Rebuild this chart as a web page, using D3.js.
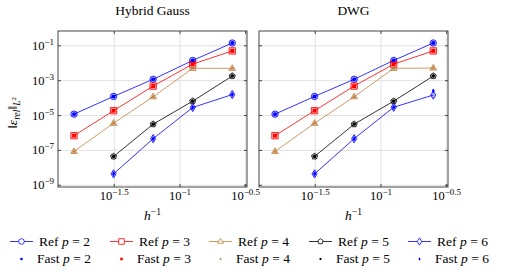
<!DOCTYPE html>
<html lang='en'>
<head>
<meta charset='utf-8'>
<title>Convergence</title>
<script src="https://d3js.org/d3.v7.min.js"></script>
<style type="text/css">
  body { margin: 0; background: #fff; }
</style>
</head>
<body>
<script type='text/javascript'>
// mesh sizes (x axis)
var hVals = [1/64, 1/32, 1/16, 1/8, 1/4];

// Hybrid Gauss
var hgRefP2 = [1.2e-5, 1.25e-4, 1.2e-3, 1.45e-2, 0.145];
var hgRefP3 = [7e-7, 1.9e-5, 4.9e-4, 8.9e-3, 0.051];
var hgRefP4 = [8.7e-8, 3.6e-6, 1.2e-4, 5.1e-3, 5.1e-3];
var hgRefP5 = [null, 4.5e-8, 3.2e-6, 6.7e-5, 1.85e-3];
var hgRefP6 = [null, 4.5e-9, 4.7e-7, 2.9e-5, 1.6e-4];
var hgFastP2 = [1.2e-5, 1.25e-4, 1.2e-3, 1.45e-2, 0.145];
var hgFastP3 = [7e-7, 1.9e-5, 4.9e-4, 8.9e-3, 0.051];
var hgFastP4 = [8.7e-8, 3.6e-6, 1.2e-4, 5.1e-3, 5.1e-3];
var hgFastP5 = [null, 4.5e-8, 3.2e-6, 6.7e-5, 1.85e-3];
var hgFastP6 = [null, 4.5e-9, 4.7e-7, 2.9e-5, 1.6e-4];

// DWG
var dwgRefP2 = [1.2e-5, 1.25e-4, 1.2e-3, 1.45e-2, 0.145];
var dwgRefP3 = [7e-7, 1.9e-5, 4.9e-4, 8.9e-3, 0.051];
var dwgRefP4 = [8.7e-8, 3.6e-6, 1.2e-4, 5.1e-3, 5.3e-3];
var dwgRefP5 = [null, 4.5e-8, 3.2e-6, 6.7e-5, 1.85e-3];
var dwgRefP6 = [null, 4.5e-9, 4.7e-7, 3.0e-5, 1.5e-4];
var dwgFastP2 = [1.2e-5, 1.25e-4, 1.2e-3, 1.45e-2, 0.145];
var dwgFastP3 = [7e-7, 1.9e-5, 4.9e-4, 8.9e-3, 0.051];
var dwgFastP4 = [8.7e-8, 3.6e-6, 1.2e-4, 5.1e-3, 5.3e-3];
var dwgFastP5 = [null, 4.5e-8, 3.2e-6, 6.7e-5, 1.85e-3];
var dwgFastP6 = [null, 4.5e-9, 4.7e-7, 3.0e-5, 2.6e-4];

var orders = [2, 3, 4, 5, 6];
var colors = ["#0000ff", "#ff0000", "#bf8040", "#000000", "#0000ff"];
var shapes = ["circle", "square", "triangle", "pentagon", "diamond"];

var xTickExps = [-1.5, -1, -0.5];
var yTickExps = [-1, -3, -5, -7, -9];

var W = 505, H = 275;
var serif = "'Liberation Serif', 'Times New Roman', serif";
var svg = d3.select("body").append("svg").attr("width", W).attr("height", H)
  .attr("font-family", serif).style("font-family", serif);

//marker paths
function markerPath(shape, r) {
  var pts;
  if (shape === "circle") {
    return "M" + r + ",0A" + r + "," + r + " 0 1,1 " + (-r) + ",0A" + r + "," + r + " 0 1,1 " + r + ",0Z";
  } else if (shape === "square") {
    pts = [[-r, -r], [r, -r], [r, r], [-r, r]];
  } else if (shape === "triangle") {
    pts = [[0, -r * 1.15], [r * 1.05, r * 0.65], [-r * 1.05, r * 0.65]];
  } else if (shape === "pentagon") {
    pts = d3.range(5).map(function(i) {
      var a = -Math.PI / 2 + i * 2 * Math.PI / 5;
      return [r * Math.cos(a), r * Math.sin(a)];
    });
  } else {
    pts = [[0, -r * 1.3], [r * 0.8, 0], [0, r * 1.3], [-r * 0.8, 0]];
  }
  return "M" + pts.map(function(p) { return p.join(","); }).join("L") + "Z";
}

function addPow(sel, base, exp, supSize) {
  sel.append("tspan").text(base);
  sel.append("tspan").attr("dy", -5).style("font-size", supSize + "px").text(exp);
}

function drawPanel(x0, x1, title, refs, fasts, showY) {
  var y0 = 31, y1 = 187;
  var x = d3.scaleLog().domain([Math.pow(10, -1.928), Math.pow(10, -0.49)]).range([x0, x1]);
  var y = d3.scaleLog().domain([Math.pow(10, -9.1), Math.pow(10, -0.15)]).range([y1, y0]);
  var g = svg.append("g");

  //grid
  g.selectAll(".gx").data(xTickExps).enter().append("line")
    .attr("x1", function(d) { return x(Math.pow(10, d)); })
    .attr("x2", function(d) { return x(Math.pow(10, d)); })
    .attr("y1", y0).attr("y2", y1)
    .attr("stroke", "#d9d9d9").attr("stroke-width", 0.8);
  g.selectAll(".gy").data(yTickExps).enter().append("line")
    .attr("y1", function(d) { return y(Math.pow(10, d)); })
    .attr("y2", function(d) { return y(Math.pow(10, d)); })
    .attr("x1", x0).attr("x2", x1)
    .attr("stroke", "#d9d9d9").attr("stroke-width", 0.8);

  //inward ticks
  var tl = 3;
  xTickExps.forEach(function(e) {
    var px = x(Math.pow(10, e));
    g.append("line").attr("x1", px).attr("x2", px).attr("y1", y1).attr("y2", y1 - tl).attr("stroke", "#444");
    g.append("line").attr("x1", px).attr("x2", px).attr("y1", y0).attr("y2", y0 + tl).attr("stroke", "#444");
  });
  yTickExps.forEach(function(e) {
    var py = y(Math.pow(10, e));
    g.append("line").attr("x1", x0).attr("x2", x0 + tl).attr("y1", py).attr("y2", py).attr("stroke", "#444");
    g.append("line").attr("x1", x1).attr("x2", x1 - tl).attr("y1", py).attr("y2", py).attr("stroke", "#444");
  });

  //series
  refs.forEach(function(vals, i) {
    var pts = hVals.map(function(h, j) { return [h, vals[j]]; }).filter(function(p) { return p[1] != null; });
    g.append("path")
      .attr("d", d3.line().x(function(p) { return x(p[0]); }).y(function(p) { return y(p[1]); })(pts))
      .attr("fill", "none").attr("stroke", colors[i]).attr("stroke-width", 0.8);
    g.selectAll(null).data(pts).enter().append("path")
      .attr("transform", function(p) { return "translate(" + x(p[0]) + "," + y(p[1]) + ")"; })
      .attr("d", markerPath(shapes[i], 3.2))
      .attr("fill", colors[i]).attr("fill-opacity", 0.3)
      .attr("stroke", colors[i]).attr("stroke-width", 0.8);
  });
  fasts.forEach(function(vals, i) {
    var pts = hVals.map(function(h, j) { return [h, vals[j]]; }).filter(function(p) { return p[1] != null; });
    g.selectAll(null).data(pts).enter().append("path")
      .attr("transform", function(p) { return "translate(" + x(p[0]) + "," + y(p[1]) + ")"; })
      .attr("d", markerPath(shapes[i], 1.9))
      .attr("fill", colors[i]);
  });

  //frame
  g.append("rect").attr("x", x0).attr("y", y0).attr("width", x1 - x0).attr("height", y1 - y0)
    .attr("fill", "none").attr("stroke", "#444").attr("stroke-width", 1);

  //tick labels
  xTickExps.forEach(function(e) {
    var t = g.append("text").attr("x", x(Math.pow(10, e))).attr("y", 200)
      .attr("text-anchor", "middle").style("font-size", "12.5px");
    addPow(t, "10", "\u2212" + Math.abs(e), 9);
  });
  if (showY) {
    yTickExps.forEach(function(e) {
      var t = g.append("text").attr("x", x0 - 4).attr("y", y(Math.pow(10, e)) + 4)
        .attr("text-anchor", "end").style("font-size", "12.5px");
      addPow(t, "10", "\u2212" + Math.abs(e), 9);
    });
  }

  //title and x label
  g.append("text").attr("x", (x0 + x1) / 2).attr("y", 15).attr("text-anchor", "middle")
    .style("font-size", "13.5px").text(title);
  var xl = g.append("text").attr("x", (x0 + x1) / 2).attr("y", 220).attr("text-anchor", "middle")
    .style("font-size", "13.5px");
  xl.append("tspan").style("font-style", "italic").text("h");
  xl.append("tspan").attr("dy", -5).style("font-size", "9.5px").text("\u22121");
}

drawPanel(58, 247, "Hybrid Gauss",
  [hgRefP2, hgRefP3, hgRefP4, hgRefP5, hgRefP6],
  [hgFastP2, hgFastP3, hgFastP4, hgFastP5, hgFastP6], true);
drawPanel(259, 448, "DWG",
  [dwgRefP2, dwgRefP3, dwgRefP4, dwgRefP5, dwgRefP6],
  [dwgFastP2, dwgFastP3, dwgFastP4, dwgFastP5, dwgFastP6], false);

//y axis label
var yl = svg.append("text").attr("transform", "translate(17,113) rotate(-90)")
  .attr("text-anchor", "middle").style("font-size", "13.5px");
yl.append("tspan").text("\u2016");
yl.append("tspan").style("font-style", "italic").text("\u03B5");
yl.append("tspan").attr("dy", 3).style("font-size", "9.5px").style("font-style", "italic").text("rel");
yl.append("tspan").attr("dy", -3).text("\u2016");
yl.append("tspan").attr("dy", 3).style("font-size", "9.5px").style("font-style", "italic").text("L");
yl.append("tspan").attr("dy", -4).style("font-size", "7px").text("2");

//legend
var legX = [10, 110, 209, 309, 408];
orders.forEach(function(p, i) {
  var lx = legX[i], ry = 241.5, fy = 259;
  svg.append("line").attr("x1", lx).attr("x2", lx + 23).attr("y1", ry).attr("y2", ry)
    .attr("stroke", colors[i]).attr("stroke-width", 0.8);
  svg.append("path").attr("transform", "translate(" + (lx + 11.5) + "," + ry + ")")
    .attr("d", markerPath(shapes[i], 2.8)).attr("fill", "#fff")
    .attr("stroke", colors[i]).attr("stroke-width", 0.8);
  var t1 = svg.append("text").attr("x", lx + 29).attr("y", ry + 4).style("font-size", "13.5px");
  t1.append("tspan").text("Ref ");
  t1.append("tspan").style("font-style", "italic").text("p");
  t1.append("tspan").attr("dx", 3.5).text("=");
  t1.append("tspan").attr("dx", 3.5).text(p);

  svg.append("path").attr("transform", "translate(" + (lx + 11.5) + "," + fy + ")")
    .attr("d", markerPath(shapes[i], 1.3)).attr("fill", colors[i]);
  var t2 = svg.append("text").attr("x", lx + 27).attr("y", fy + 4).style("font-size", "13.5px");
  t2.append("tspan").text("Fast ");
  t2.append("tspan").style("font-style", "italic").text("p");
  t2.append("tspan").attr("dx", 3.5).text("=");
  t2.append("tspan").attr("dx", 3.5).text(p);
});
</script>
</body>
</html>
